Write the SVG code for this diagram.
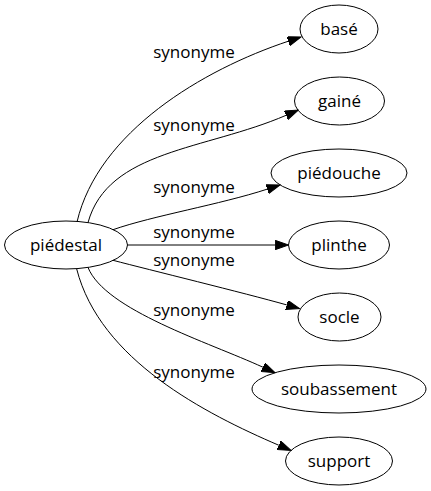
<svg xmlns="http://www.w3.org/2000/svg" width="431" height="491" viewBox="0 0 431 491">
<style>
.node ellipse{fill:none;stroke:#000;stroke-width:1}
text{font-family:"Open Sans","Liberation Sans",sans-serif;font-size:17px;fill:#000;text-anchor:middle}
.edge path{fill:none;stroke:#000;stroke-width:1;marker-end:url(#arrow)}
</style>
<defs>
<marker id="arrow" markerUnits="userSpaceOnUse" markerWidth="14" markerHeight="10" viewBox="0 0 14 10" refX="0" refY="4.67" orient="auto">
<path d="M0,0 L13.3,4.67 L0,9.34 Z" fill="#000" stroke="#000" stroke-width="1"/>
</marker>
</defs>
<rect width="431" height="491" fill="#fff"/>
<g id="edges" class="edge">
<path d="M77,222 C98,132 203,69.5 288.4,41.2"/>
<path d="M88,222.6 C108,150 205.2,150.1 286.1,115.3"/>
<path d="M113,229.7 C153,215.7 219.8,204.6 267.35,189.1"/>
<path d="M127.5,245 L275.2,245"/>
<path d="M113,260.3 C150,270 243.4,292.75 286.7,304.9"/>
<path d="M88,267.4 C105,310 208.4,342.2 262.9,367.2"/>
<path d="M76.7,269 C100,360 205.3,413.65 278.8,445.25"/>
<text x="194" y="57.5">synonyme</text>
<text x="194" y="131">synonyme</text>
<text x="194" y="192.5">synonyme</text>
<text x="194" y="238.3">synonyme</text>
<text x="194" y="266">synonyme</text>
<text x="194" y="315.7">synonyme</text>
<text x="194" y="378.3">synonyme</text>
</g>
<g id="node-piedestal" class="node"><ellipse cx="66" cy="245" rx="61.5" ry="24"/><text x="66" y="251">piédestal</text></g>
<g id="node-base" class="node"><ellipse cx="339" cy="29" rx="39" ry="24"/><text x="339" y="35">basé</text></g>
<g id="node-gaine" class="node"><ellipse cx="339.5" cy="101" rx="45" ry="24"/><text x="339.5" y="107">gainé</text></g>
<g id="node-piedouche" class="node"><ellipse cx="339" cy="173" rx="68" ry="24"/><text x="339" y="179">piédouche</text></g>
<g id="node-plinthe" class="node"><ellipse cx="339" cy="245" rx="50.5" ry="24"/><text x="339" y="251">plinthe</text></g>
<g id="node-socle" class="node"><ellipse cx="339.5" cy="317" rx="41.5" ry="24"/><text x="339.5" y="323">socle</text></g>
<g id="node-soubassement" class="node"><ellipse cx="339" cy="389" rx="87" ry="24"/><text x="339" y="395">soubassement</text></g>
<g id="node-support" class="node"><ellipse cx="339" cy="461" rx="53.5" ry="24"/><text x="339" y="467">support</text></g>
</svg>
